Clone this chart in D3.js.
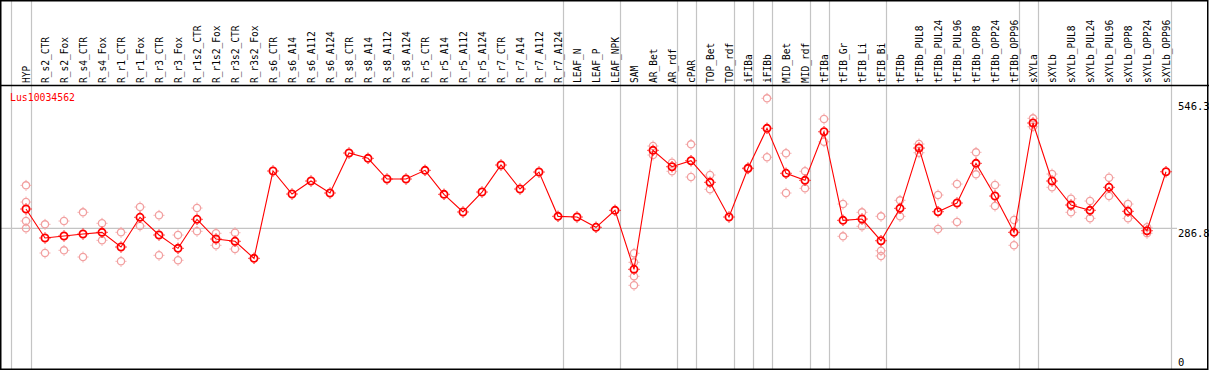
<!DOCTYPE html>
<html><head><meta charset="utf-8">
<script src="https://cdn.jsdelivr.net/npm/d3@7"></script>
<style>
html,body{margin:0;padding:0;background:#fff;}
svg{display:block;}
text{font-family:"DejaVu Sans Mono","Liberation Mono",monospace;}
</style></head>
<body>
<svg id="chart" width="1209" height="370"></svg>
<script>
const categories = ["HYP","R_s2_CTR","R_s2_Fox","R_s4_CTR","R_s4_Fox","R_r1_CTR","R_r1_Fox","R_r3_CTR","R_r3_Fox","R_r1s2_CTR","R_r1s2_Fox","R_r3s2_CTR","R_r3s2_Fox","R_s6_CTR","R_s6_A14","R_s6_A112","R_s6_A124","R_s8_CTR","R_s8_A14","R_s8_A112","R_s8_A124","R_r5_CTR","R_r5_A14","R_r5_A112","R_r5_A124","R_r7_CTR","R_r7_A14","R_r7_A112","R_r7_A124","LEAF_N","LEAF_P","LEAF_NPK","SAM","AR_Bet","AR_rdf","cPAR","TOP_Bet","TOP_rdf","iFIBa","iFIBb","MID_Bet","MID_rdf","tFIBa","tFIB_Gr","tFIB_Li","tFIB_Bi","tFIBb","tFIBb_PUL8","tFIBb_PUL24","tFIBb_PUL96","tFIBb_OPP8","tFIBb_OPP24","tFIBb_OPP96","sXYLa","sXYLb","sXYLb_PUL8","sXYLb_PUL24","sXYLb_PUL96","sXYLb_OPP8","sXYLb_OPP24","sXYLb_OPP96"];

const means = [326.3,266.9,271.0,275.0,278.5,248.4,309.3,273.0,245.7,305.2,264.8,260.1,225.2,404.2,357.0,383.7,359.1,441.1,430.2,387.8,387.8,405.6,356.4,320.2,361.1,416.5,367.3,402.1,311.3,309.9,288.8,323.6,202.7,446.6,413.0,425.3,381.0,309.9,409.7,491.7,399.5,385.1,484.7,303.1,305.8,261.3,327.7,451.3,320.8,338.6,419.9,352.9,278.5,502.6,383.7,334.5,323.6,370.8,321.6,281.8,402.7];

const replicates = [
  [374.8,340.6,301.7,286.7],[294.9,236.1],[301.7,241.6],[319.5,227.9],[297.0,262.1],
  [278.5,219.1],[330.4,291.5],[313.4,231.4],[273.0,221.2],[328.3,280.6],
  [276.5,251.9],[277.7,244.3],[],[],[],[],[],[],[],[],[],[],[],[],[],[],[],[],[],[],[],[],
  [235.5,217.0,188.4,169.9],[455.4,437.0],[421.2,403.6],[458.9,391.9],[396.0,366.7],[],
  [411.0,408.4],[553.2,432.3],[440.5,359.1],[403.6,368.7],[510.8,464.2],[336.5,270.3],
  [319.5,290.8],[311.3,240.8,230.0],[344.1,311.3],[459.5,441.7],[355.0,285.3],[377.5,299.7],
  [442.5,397.4],[375.5,332.4],[303.7,251.9],[512.2,495.0],[398.0,370.8],[347.4,319.5],
  [342.7,307.2],[390.5,352.9],[336.5,307.2],[288.8,276.5],[]
];

const yTickValues = [0, 286.8, 546.3];
const yTickLabels = ["0", "286.8", "546.3"];
const gridValues = [286.8];
// categories after which a group separator is drawn
const groupEnds = ["HYP","R_r7_A124","LEAF_NPK","AR_rdf","cPAR","TOP_rdf","iFIBa","iFIBb","MID_rdf","tFIBa","tFIB_Bi","tFIBb_OPP96","sXYLa","sXYLb_OPP96"];
const geneName = "Lus10034562";

const W = 1209, H = 370;
const svg = d3.select("#chart");
const x = d3.scalePoint().domain(categories).range([26, 1166]);
const y = d3.scaleLinear().domain([0, 546.3]).range([368.2, 101.7]);
const headerY = 85.5;

// vertical separators
const sepX = [x(categories[0]) - 15.3].concat(groupEnds.map(c => x(c) + 4.7));
svg.append("g").selectAll("line").data(sepX).join("line")
  .attr("x1", d => Math.round(d) + 0.5).attr("x2", d => Math.round(d) + 0.5)
  .attr("y1", 0).attr("y2", H)
  .attr("stroke", "#c4c4c4").attr("stroke-width", 1.2);

// horizontal gridline
svg.append("g").selectAll("line").data(gridValues).join("line")
  .attr("x1", 1).attr("x2", 1177)
  .attr("y1", d => y(d)).attr("y2", d => y(d))
  .attr("stroke", "#c4c4c4").attr("stroke-width", 1.2);

// category labels (rotated)
svg.append("g").selectAll("text").data(categories).join("text")
  .attr("transform", d => `translate(${x(d) + 3.6},83) rotate(-90)`)
  .attr("font-size", "10px")
  .attr("fill", "#000")
  .attr("textLength", d => d.length * 5.75)
  .attr("lengthAdjust", "spacingAndGlyphs")
  .text(d => d);

// y labels
svg.append("g").selectAll("text").data(yTickValues).join("text")
  .attr("x", 1178)
  .attr("y", (d, i) => d === 0 ? 366 : y(d) + 8.5)
  .attr("font-size", "10.5px")
  .attr("fill", "#000")
  .text((d, i) => yTickLabels[i]);

// gene name
svg.append("text").attr("x", 10).attr("y", 101)
  .attr("font-size", "10px").attr("fill", "#ff0000")
  .attr("textLength", 65).attr("lengthAdjust", "spacingAndGlyphs")
  .text(geneName);

// marker helper
function marker(g, cx, cy, color, sw, r) {
  g.append("circle").attr("cx", cx).attr("cy", cy).attr("r", r)
    .attr("fill", "none").attr("stroke", color).attr("stroke-width", sw);
  const e = r + sw / 2, t = 1.2;
  g.append("path")
    .attr("d", `M${cx},${cy - e}v${-t}M${cx},${cy + e}v${t}M${cx - e},${cy}h${-t}M${cx + e},${cy}h${t}`)
    .attr("stroke", color).attr("stroke-width", 1);
}

// replicates
const repG = svg.append("g");
replicates.forEach((reps, i) => {
  reps.forEach(v => marker(repG, x(categories[i]), y(v), "#f2a0a0", 1.3, 3.6));
});

// mean line
const line = d3.line().x((d, i) => x(categories[i])).y(d => y(d));
svg.append("path").datum(means).attr("d", line)
  .attr("fill", "none").attr("stroke", "#ff0000").attr("stroke-width", 1.1);

// mean markers
const meanG = svg.append("g");
means.forEach((v, i) => marker(meanG, x(categories[i]), y(v), "#ff0000", 1.8, 3.6));

// header separator and frame
svg.append("line").attr("x1", 0).attr("x2", W).attr("y1", headerY).attr("y2", headerY)
  .attr("stroke", "#000").attr("stroke-width", 1.3);
svg.append("rect").attr("x", 0.75).attr("y", 0.75).attr("width", 1207).attr("height", 368.5)
  .attr("fill", "none").attr("stroke", "#000").attr("stroke-width", 1.5);
</script>
</body></html>
